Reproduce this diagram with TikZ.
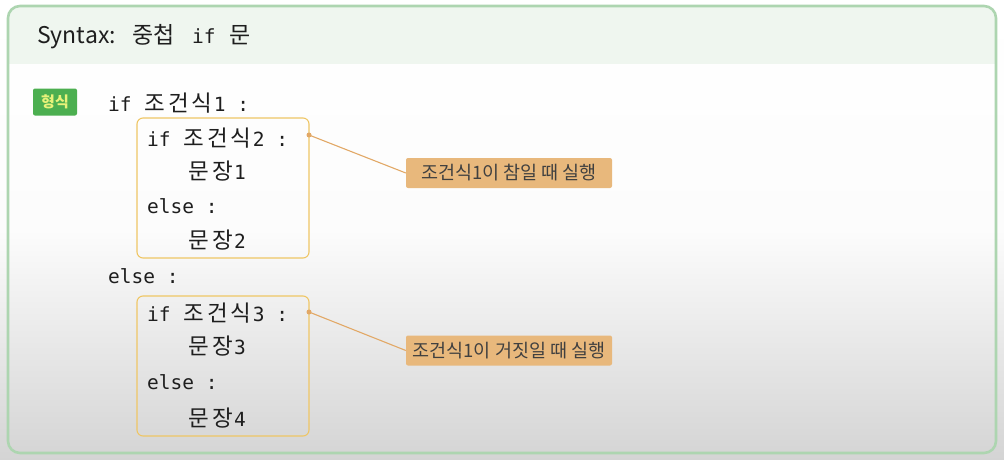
\documentclass[tikz,border=0pt]{standalone}
\usepackage{fontspec}
\setmainfont{DejaVu Sans Mono}
\newfontfamily\kr{Noto Sans CJK KR}
\newlength\kcell
\setlength\kcell{23.5pt}
\newcommand\K[1]{\Kloop#1\relax}
\def\Kloop#1{\ifx#1\relax\else\makebox[\kcell][c]{\kr\fontsize{22.5}{24}\selectfont#1}\expandafter\Kloop\fi}
\definecolor{framegreen}{HTML}{ADD5B0}
\definecolor{headbg}{HTML}{EFF6EF}
\definecolor{badgegreen}{HTML}{4CAF50}
\definecolor{badgetext}{HTML}{E8F27A}
\definecolor{boxline}{HTML}{EFC665}
\definecolor{connline}{HTML}{E2A866}
\definecolor{labfill}{HTML}{E8B87C}
\definecolor{bottomgray}{HTML}{D4D4D4}
\definecolor{txt}{HTML}{1E1E1E}
\tikzset{
  code/.style={anchor=west, inner sep=0pt, text=txt, font=\fontsize{19.5}{21}\selectfont},
  codebox/.style={draw=boxline, line width=1.1pt, rounded corners=6pt, minimum width=172pt, minimum height=140pt, inner sep=0pt},
  labelbox/.style={fill=labfill, rounded corners=2pt, minimum width=206pt, minimum height=30pt, inner sep=0pt, text=txt!85, font=\kr\fontsize{18.5}{20}\selectfont},
  conn/.style={draw=connline, line width=1.1pt},
  dotmark/.style={circle, fill=connline, inner sep=0pt, minimum size=5pt},
  badge/.style={fill=badgegreen, rounded corners=2pt, minimum width=44pt, minimum height=27pt, inner sep=0pt, text=badgetext, font=\kr\bfseries\fontsize{15}{17}\selectfont}
}
\begin{document}
\begin{tikzpicture}[x=1pt,y=-1pt]
\useasboundingbox (0,0) rectangle (1004,460);
\shade[top color=white, bottom color=bottomgray, middle color=white!93!bottomgray] (0,0) rectangle (1004,460);
\begin{scope}
  \clip[rounded corners=12pt] (8,6) rectangle (996,453);
  \fill[headbg] (8,6) rectangle (996,64);
\end{scope}
\draw[framegreen, line width=2.6pt, rounded corners=12pt] (8,6) rectangle (996,453);

\node[code] (title) at (37,37) {\makebox[95pt][l]{\kr\fontsize{23}{25}\selectfont Syntax:}\makebox[60pt][l]{\kr\fontsize{23}{25}\selectfont 중첩}\makebox[37pt][l]{if}{\kr\fontsize{23}{25}\selectfont 문}};
\node[badge] (badge) at (55,102) {형식};

\node[code] (l1) at (108,103) {if \K{조건식}1 :};
\node[codebox] (box1) at (223,188) {};
\node[code] (l2) at (147,138) {if \K{조건식}2 :};
\node[code] (l3) at (187,171) {\K{문장}1};
\node[code] (l4) at (147,206) {else :};
\node[code] (l5) at (187,240) {\K{문장}2};
\node[code] (l6) at (108,276) {else :};
\node[codebox] (box2) at (223,366) {};
\node[code] (l7) at (147,313) {if \K{조건식}3 :};
\node[code] (l8) at (187,346) {\K{문장}3};
\node[code] (l9) at (147,382) {else :};
\node[code] (l10) at (187,418) {\K{문장}4};

\node[labelbox] (lab1) at (509,173) {조건식1이 참일 때 실행};
\node[labelbox] (lab2) at (509,350.5) {조건식1이 거짓일 때 실행};

\node[dotmark] (d1) at (309,135) {};
\node[dotmark] (d2) at (309,312) {};
\draw[conn] (d1.center) -- (lab1.west);
\draw[conn] (d2.center) -- (lab2.west);
\end{tikzpicture}
\end{document}
